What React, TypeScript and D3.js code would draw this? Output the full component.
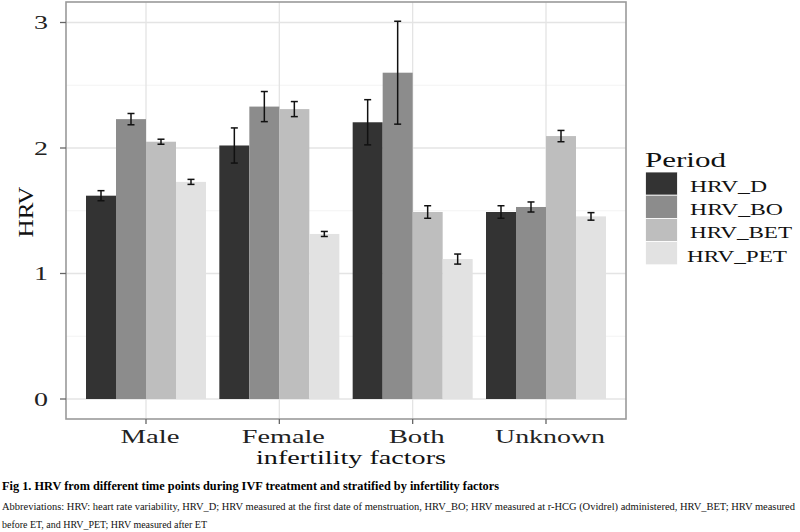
import React from "react";
import * as d3 from "d3";

const categories = ["Male", "Female", "Both", "Unknown"];
const periods = ["HRV_D", "HRV_BO", "HRV_BET", "HRV_PET"];
const fills = ["#333333", "#8c8c8c", "#bebebe", "#e2e2e2"];
// means per period, indexed by category
const meanD = [1.62, 2.02, 2.205, 1.49];
const meanBO = [2.23, 2.33, 2.6, 1.53];
const meanBET = [2.05, 2.31, 1.49, 2.095];
const meanPET = [1.73, 1.315, 1.115, 1.455];
// error half-widths
const errD = [0.04, 0.14, 0.18, 0.05];
const errBO = [0.045, 0.12, 0.41, 0.04];
const errBET = [0.02, 0.06, 0.05, 0.045];
const errPET = [0.02, 0.02, 0.04, 0.03];
const yTicks = [0, 1, 2, 3];
const yMinor = [0.5, 1.5, 2.5];

const means = [meanD, meanBO, meanBET, meanPET];
const errs = [errD, errBO, errBET, errPET];

const serif = "'Liberation Serif', 'Times New Roman', serif";

export default function App() {
  const W = 800, H = 532;
  const pL = 66, pR = 626, pT = 2, pB = 419;
  const x = d3.scaleBand<string>().domain(categories).range([pL, pR]).paddingInner(0.1).paddingOuter(0.15);
  const xs = d3.scaleBand<string>().domain(periods).range([0, x.bandwidth()]).padding(0);
  const y = d3.scaleLinear().domain([0, 3]).range([399, 22.5]);
  const cx = (c: string) => (x(c) as number) + x.bandwidth() / 2;

  const catLabelW: Record<string, number> = { Male: 59, Female: 83, Both: 56, Unknown: 110 };
  const legLabelW = [77, 93, 102, 100];

  return (
    <svg width={W} height={H} style={{ position: "absolute", left: 0, top: 0, background: "#fff" }} fontFamily={serif}>
      <rect x={0} y={0} width={W} height={H} fill="#fff" />
      {/* grid */}
      {yMinor.map((v) => (
        <line key={"mn" + v} x1={pL} x2={pR} y1={y(v)} y2={y(v)} stroke="#f3f3f3" strokeWidth={1} />
      ))}
      {yTicks.map((v) => (
        <line key={"mj" + v} x1={pL} x2={pR} y1={y(v)} y2={y(v)} stroke="#e4e4e4" strokeWidth={1.3} />
      ))}
      {categories.map((c) => (
        <line key={"vg" + c} x1={cx(c)} x2={cx(c)} y1={pT} y2={pB} stroke="#e4e4e4" strokeWidth={1.3} />
      ))}
      {/* bars */}
      {categories.map((c, ci) =>
        periods.map((p, pi) => {
          const bx = (x(c) as number) + (xs(p) as number);
          const v = means[pi][ci];
          return (
            <rect key={c + p} x={bx} y={y(v)} width={xs.bandwidth()} height={y(0) - y(v)} fill={fills[pi]} />
          );
        })
      )}
      {/* error bars */}
      {categories.map((c, ci) =>
        periods.map((p, pi) => {
          const mx = (x(c) as number) + (xs(p) as number) + xs.bandwidth() / 2;
          const v = means[pi][ci];
          const e = errs[pi][ci];
          const hw = 3.5;
          return (
            <g key={"e" + c + p} stroke="#111" strokeWidth={1.5}>
              <line x1={mx} x2={mx} y1={y(v + e)} y2={y(v - e)} />
              <line x1={mx - hw} x2={mx + hw} y1={y(v + e)} y2={y(v + e)} />
              <line x1={mx - hw} x2={mx + hw} y1={y(v - e)} y2={y(v - e)} />
            </g>
          );
        })
      )}
      {/* panel border */}
      <rect x={pL} y={pT} width={pR - pL} height={pB - pT} fill="none" stroke="#9a9a9a" strokeWidth={1.6} />
      {/* y axis ticks */}
      {yTicks.map((v) => (
        <g key={"yt" + v}>
          <line x1={pL - 6} x2={pL} y1={y(v)} y2={y(v)} stroke="#666" strokeWidth={1.3} />
          <text x={48} y={y(v) + 6.5} textAnchor="end" fontSize={19} fill="#222" textLength={14} lengthAdjust="spacingAndGlyphs">
            {v}
          </text>
        </g>
      ))}
      {/* x axis ticks */}
      {categories.map((c) => (
        <g key={"xt" + c}>
          <line x1={cx(c)} x2={cx(c)} y1={pB} y2={pB + 5} stroke="#666" strokeWidth={1.3} />
          <text x={cx(c) + 4} y={443} textAnchor="middle" fontSize={18} fill="#222" textLength={catLabelW[c]} lengthAdjust="spacingAndGlyphs">
            {c}
          </text>
        </g>
      ))}
      <text x={351} y={464} textAnchor="middle" fontSize={19} fill="#111" textLength={190} lengthAdjust="spacingAndGlyphs">
        infertility factors
      </text>
      <text transform={`translate(33,212) rotate(-90)`} textAnchor="middle" fontSize={22} fill="#111" textLength={51} lengthAdjust="spacingAndGlyphs">
        HRV
      </text>
      {/* legend */}
      <text x={645} y={167} fontSize={20} fill="#111" textLength={81} lengthAdjust="spacingAndGlyphs">
        Period
      </text>
      {periods.map((p, i) => {
        const top = 172 + i * 23.2;
        return (
          <g key={"lg" + p}>
            <rect x={645.5} y={top} width={32} height={23.2} fill={fills[i]} stroke="#fff" strokeWidth={0.8} />
            <text x={i === 3 ? 687 : 690} y={top + 20} fontSize={16} fill="#111" textLength={legLabelW[i]} lengthAdjust="spacingAndGlyphs">
              {p}
            </text>
          </g>
        );
      })}
      {/* caption */}
      <text x={2} y={490} fontSize={12.5} fontWeight="bold" fill="#000" textLength={497} lengthAdjust="spacingAndGlyphs">
        Fig 1. HRV from different time points during IVF treatment and stratified by infertility factors
      </text>
      <text x={2} y={510} fontSize={10.5} fill="#111" textLength={793} lengthAdjust="spacingAndGlyphs">
        Abbreviations: HRV: heart rate variability, HRV_D; HRV measured at the first date of menstruation, HRV_BO; HRV measured at r-HCG (Ovidrel) administered, HRV_BET; HRV measured
      </text>
      <text x={2} y={528} fontSize={10.5} fill="#111" textLength={205} lengthAdjust="spacingAndGlyphs">
        before ET, and HRV_PET; HRV measured after ET
      </text>
    </svg>
  );
}
